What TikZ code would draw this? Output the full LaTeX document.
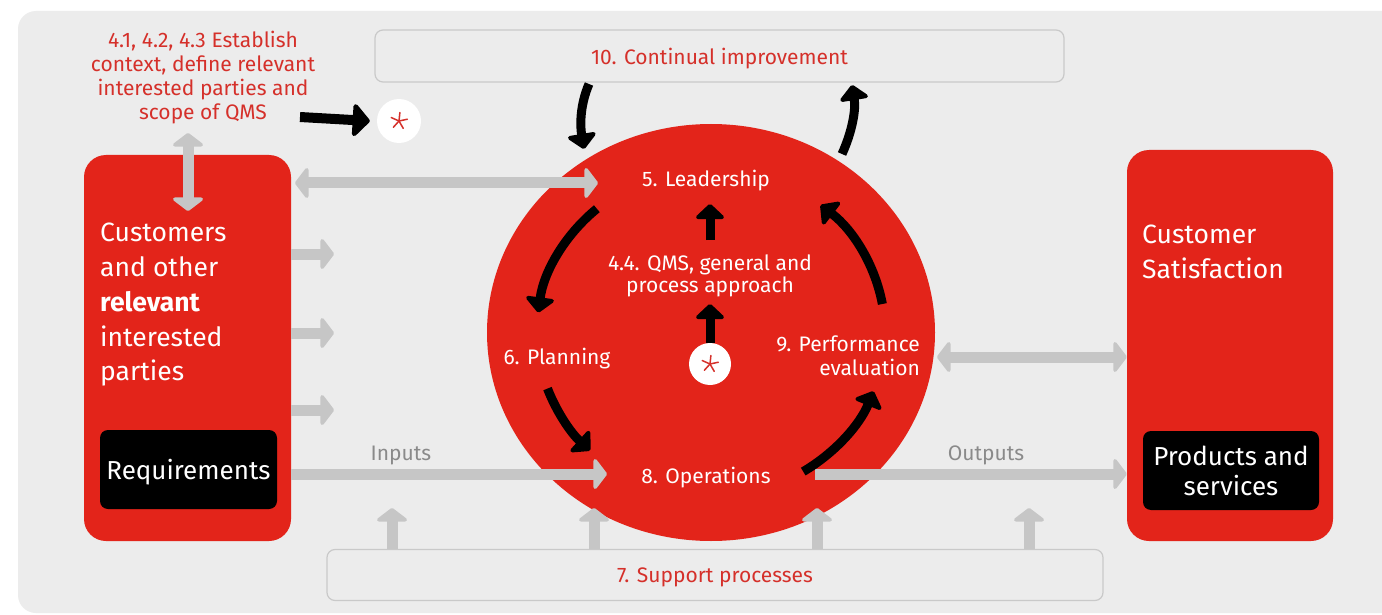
\documentclass[tikz,border=0pt]{standalone}
\usepackage{fontspec}
\setmainfont{Fira Sans}
\usetikzlibrary{arrows.meta,shapes.geometric,calc}
\definecolor{bg}{HTML}{ECECEC}
\definecolor{qred}{HTML}{E3241A}
\definecolor{tred}{HTML}{D5302A}
\definecolor{garr}{HTML}{C6C6C6}
\definecolor{gline}{HTML}{C9C9C9}
\definecolor{gtext}{HTML}{8A8A8A}
\tikzset{
  redbox/.style={fill=qred, rounded corners=22pt, inner sep=0pt},
  blackbox/.style={fill=black, rounded corners=8pt, text=white, align=center, inner sep=0pt, font=\fontsize{26}{30}\selectfont},
  graybox/.style={draw=gline, line width=1.2pt, fill=bg, rounded corners=8pt, text=tred, inner sep=0pt, text depth=0pt, font=\fontsize{21}{24}\selectfont},
  starc/.style={circle, fill=white, inner sep=0pt},
  wlbl/.style={text=white, inner sep=0pt, font=\fontsize{21}{24}\selectfont},
  rlbl/.style={text=tred, inner sep=0pt, align=center, font=\fontsize{21}{24}\selectfont},
  glbl/.style={text=gtext, inner sep=0pt, font=\fontsize{21}{24}\selectfont},
  biglbl/.style={text=white, inner sep=0pt, align=left, font=\fontsize{26.5}{34.75}\selectfont},
  garrow/.style={draw=garr, line width=11pt, -{Triangle[width=36pt,length=14pt,round]}},
  gdbl/.style={draw=garr, line width=11pt, {Triangle[width=36pt,length=14pt,round]}-{Triangle[width=36pt,length=14pt,round]}},
  barrow/.style={draw=black, line width=9pt, -{Triangle[width=33pt,length=16pt,round]}},
  astk/.style={draw=tred, line width=1.5pt, line cap=round},
}
\begin{document}
\begin{tikzpicture}[x=1pt,y=-1pt]
\useasboundingbox (0,0) rectangle (1382,615);
\fill[white] (0,0) rectangle (1382,615);
\fill[bg, rounded corners=18pt] (18,11) rectangle (1420,613);

% main boxes
\node[redbox, minimum width=207pt, minimum height=386pt] (cust) at (187.5,348) {};
\node[redbox, minimum width=206pt, minimum height=391pt] (sat) at (1230,345.5) {};
\node[blackbox, minimum width=177pt, minimum height=79pt, text depth=0pt] (req) at (188.5,469.5) {Requirements};
\node[blackbox, minimum width=176pt, minimum height=79pt] (prod) at (1231,470.5) {Products and\\services};
\node[ellipse, fill=qred, minimum width=448pt, minimum height=417pt, inner sep=0pt] (circ) at (711,332.5) {};
\node[graybox, minimum width=689pt, minimum height=52pt] (ci) at (719.5,56) {10. Continual improvement};
\node[graybox, minimum width=776pt, minimum height=51pt] (sup) at (715,575) {7. Support processes};

% texts
\node[rlbl] (ctx) at (203,78) {4.1, 4.2, 4.3 Establish\\context, define relevant\\interested parties and\\scope of QMS};
\node[biglbl, anchor=west] (custt) at (100,305) {Customers\\and other\\\textbf{relevant}\\interested\\parties};
\node[biglbl, anchor=west] (satt) at (1142,252) {Customer\\Satisfaction};
\node[wlbl] (lead) at (706,181) {5. Leadership};
\node[wlbl, align=center, font=\fontsize{21}{22.5}\selectfont] (qms) at (710,276) {4.4. QMS, general and\\process approach};
\node[wlbl] (plan) at (557,359) {6. Planning};
\node[wlbl, align=right, anchor=east] (perf) at (920,356) {9. Performance\\evaluation};
\node[wlbl] (oper) at (706,478) {8. Operations};
\node[glbl] (inp) at (401,455) {Inputs};
\node[glbl] (outp) at (986,455) {Outputs};

% star circles
\node[starc, minimum size=44pt] (s1) at (399,121) {};
\node[starc, minimum size=42pt] (s2) at (710,364) {};
\foreach \a in {18,90,162,234,306} {
  \draw[astk] (s1.center) -- ++(\a-6:8.5pt);
  \draw[astk] (s2.center) -- ++(\a-6:8.5pt);
}

% gray arrows
\coordinate (vtop) at (188,133);
\coordinate (vbot) at (188,211);
\draw[gdbl] (vtop) -- (vbot);
\coordinate (ltop) at (295,183);
\coordinate (lead-in) at (598,183);
\draw[gdbl] (ltop) -- (lead-in);
\coordinate (sa1) at (334,254);
\coordinate (sa2) at (334,333);
\coordinate (sa3) at (334,410);
\draw[garrow] (cust.east |- sa1) -- (sa1);
\draw[garrow] (cust.east |- sa2) -- (sa2);
\draw[garrow] (cust.east |- sa3) -- (sa3);
\coordinate (inend) at (607,474);
\draw[garrow] (cust.east |- inend) -- (inend);
\coordinate (outst) at (815,474);
\draw[garrow] (outst) -- (sat.west |- outst);
\coordinate (pl) at (937,357);
\draw[gdbl] (pl) -- (sat.west |- pl);
\foreach \x/\n in {392/u1,594/u2,817/u3,1029/u4} {
  \coordinate (\n) at (\x,508);
  \draw[garrow] (sup.north -| \n) -- (\n);
}

% black arrows
\coordinate (ctxa) at (300,117);
\draw[barrow, line width=10pt, -{Triangle[width=38pt,length=18pt,round]}] (ctxa) -- ([xshift=-7pt]s1.west);
\coordinate (cia) at (589,84);
\coordinate (cib) at (584,149);
\draw[barrow] (cia) .. controls (580,105) and (580,125) .. (cib);
\coordinate (cic) at (842,154);
\coordinate (cid) at (852,85);
\draw[barrow] (cic) .. controls (852,132) and (856,110) .. (cid);
\coordinate (q1) at (710,240);
\coordinate (q2) at (710,204);
\draw[barrow] (q1) -- (q2);
\coordinate (q3) at (710,304);
\draw[barrow] (s2.north) -- (q3);
\coordinate (a1) at ($(circ.center)+(131:174pt and 164pt)$);
\coordinate (a2) at ($(circ.center)+(200:174pt and 164pt)$);
\coordinate (a3) at ($(circ.center)+(302:174pt and 164pt)$);
\coordinate (a4) at ($(circ.center)+(10:174pt and 164pt)$);
\draw[barrow] (a1) arc[start angle=131, end angle=173, x radius=174pt, y radius=164pt];
\draw[barrow] (a2) arc[start angle=200, end angle=226, x radius=174pt, y radius=164pt];
\draw[barrow] (a3) arc[start angle=302, end angle=339, x radius=174pt, y radius=164pt];
\draw[barrow] (a4) arc[start angle=10, end angle=51, x radius=174pt, y radius=164pt];
\end{tikzpicture}
\end{document}
